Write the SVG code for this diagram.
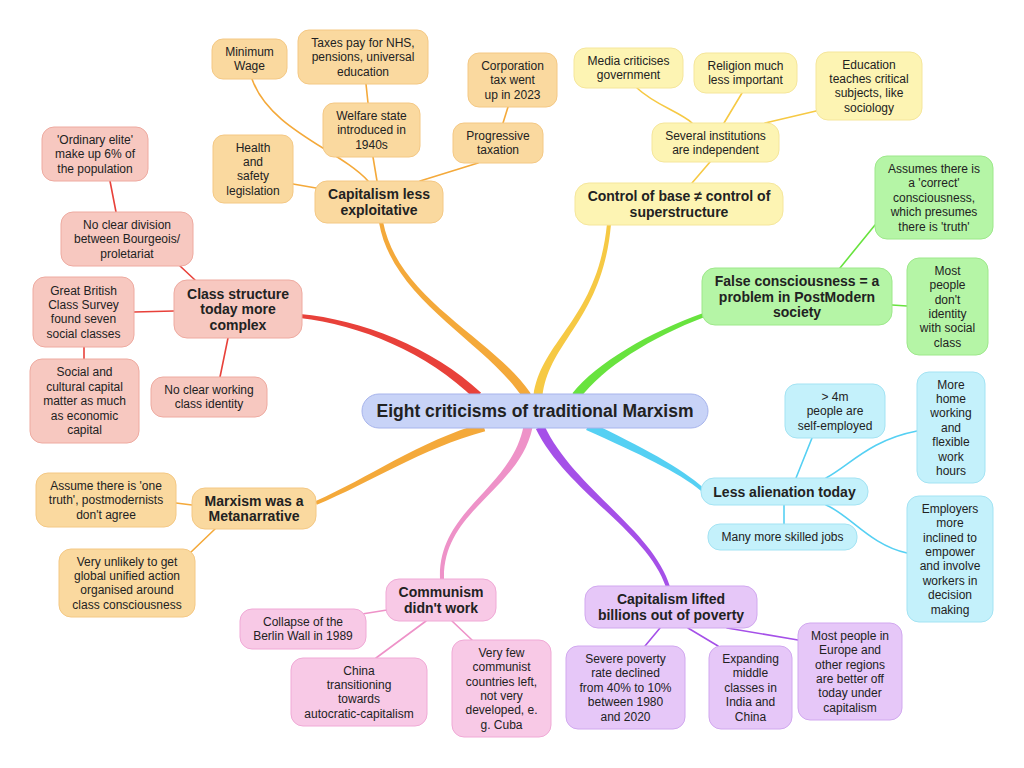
<svg xmlns="http://www.w3.org/2000/svg" width="1024" height="768" viewBox="0 0 1024 768">
<style>
text{font-family:"Liberation Sans",Arial,sans-serif;fill:#222;text-anchor:middle}
.t{font-size:12px}
.b{font-size:14px;font-weight:bold}
.c{font-size:17.5px;font-weight:bold}
rect{stroke-width:1}
.or{fill:#fad99f;stroke:#f4c884}
.ye{fill:#fdf4b3;stroke:#f5e69b}
.gr{fill:#b5f5a6;stroke:#9de88a}
.re{fill:#f7c8c0;stroke:#eeaaa0}
.cy{fill:#c4f1fb;stroke:#a3e3f3}
.pu{fill:#e6c7f8;stroke:#d1a8ef}
.pi{fill:#f8c9e6;stroke:#f0a9d6}
.ce{fill:#c8d3f7;stroke:#a7b4ec}
.l{fill:none;stroke-width:1.6;stroke-linecap:round}
.m{stroke:none}
.lo{stroke:#f4a93a}.ly{stroke:#f6c944}.lg{stroke:#68e33e}.lr{stroke:#e8413a}.lc{stroke:#55d0f3}.lp{stroke:#a550e8}.lk{stroke:#ee92c8}
.fo{fill:#f4a93a}.fy{fill:#f6c944}.fg{fill:#68e33e}.fr{fill:#e8413a}.fc{fill:#55d0f3}.fp{fill:#a550e8}.fk{fill:#ee92c8}
</style>
<rect width="1024" height="768" fill="#fff"/>
<g id="connectors">
<path class="m fr" d="M299.8,318 C359.7,324.6 427.4,352.7 474.9,399.2 L481.1,392.8 C432.6,347.3 360.3,319.4 300.2,314 Z"/>
<path class="m fo" d="M379,222.4 C392.4,300.5 486.8,342.1 523.2,398.5 L530.8,393.5 C493.2,337.9 397.6,299.5 383,221.6 Z"/>
<path class="m fy" d="M607,223.8 C597.4,319.8 541.2,339.5 533.5,395.4 L542.5,396.6 C548.8,340.5 602.6,320.2 611,224.2 Z"/>
<path class="m fg" d="M703.3,313.1 C649.1,332.6 597,362.7 572.4,393.2 L579.6,398.8 C603,367.3 650.9,337.4 704.7,316.9 Z"/>
<path class="m fc" d="M586.1,430.1 C638.4,453.5 678.3,472 701.7,491.5 L704.3,488.5 C681.7,468 641.6,446.5 589.9,421.9 Z"/>
<path class="m fp" d="M535.9,428.9 C566.6,491.6 647.5,530.8 666.1,587.6 L669.9,586.4 C652.5,529.2 573.4,488.4 544.1,425.1 Z"/>
<path class="m fk" d="M523.6,426.1 C511.3,489.2 437.4,510.1 440,579.1 L444,578.9 C442.6,509.9 518.7,490.8 532.4,427.9 Z"/>
<path class="m fo" d="M482.8,422.7 C419,441.3 369,477.6 315.2,501.2 L316.8,504.8 C371,482.4 421,448.7 485.2,431.3 Z"/>
<path class="l lo" d="M252,79 C270,130 340,150 368,181"/>
<path class="l lo" d="M366,84 L368,103"/>
<path class="l lo" d="M373,157 L377,181"/>
<path class="l lo" d="M478,163 L420,181"/>
<path class="l lo" d="M508,107 L503,123"/>
<path class="l lo" d="M293,184 L316,188"/>
<path class="l ly" d="M710,162 L692,183"/>
<path class="l ly" d="M637,88 C655,105 680,112 692,123"/>
<path class="l ly" d="M742,93 L724,123"/>
<path class="l ly" d="M816,111 L765,123"/>
<path class="l lg" d="M875,225 L840,268"/>
<path class="l lg" d="M907,306 L892,305"/>
<path class="l lr" d="M110,181 L116,212"/>
<path class="l lr" d="M180,266 L195,280"/>
<path class="l lr" d="M134,312 L174,311"/>
<path class="l lr" d="M84,347 L84,359"/>
<path class="l lr" d="M228,338 L220,377"/>
<path class="l lc" d="M812,438 L796,478"/>
<path class="l lc" d="M917,431 C870,440 850,465 826,478"/>
<path class="l lc" d="M907,553 C870,545 850,515 826,505"/>
<path class="l lc" d="M784,524 L784,505"/>
<path class="l lp" d="M660,628 L645,646"/>
<path class="l lp" d="M688,628 L718,646"/>
<path class="l lp" d="M727,628 L798,640"/>
<path class="l lk" d="M387,610 L362,614"/>
<path class="l lk" d="M426,621 L376,658"/>
<path class="l lk" d="M452,621 L472,640"/>
<path class="l lo" d="M176,503 L192,505"/>
<path class="l lo" d="M190,553 L215,529"/>
</g>
<g id="center"><rect class="ce" x="362" y="394" width="346" height="34" rx="17"/><text class="c" x="535" y="416.7">Eight criticisms of traditional Marxism</text></g>

<g id="capitalism-less"><rect class="or" x="315" y="181" width="128" height="42" rx="12"/><text class="b" x="379" y="199.25">Capitalism less<tspan x="379" dy="15.5">exploitative</tspan></text></g>
<g id="minimum-wage"><rect class="or" x="212" y="39" width="75" height="40" rx="11"/><text class="t" x="249.5" y="56">Minimum<tspan x="249.5" dy="14.4">Wage</tspan></text></g>
<g id="taxes"><rect class="or" x="298" y="30" width="130" height="54" rx="11"/><text class="t" x="363" y="46.8">Taxes pay for NHS,<tspan x="363" dy="14.4">pensions, universal</tspan><tspan x="363" dy="14.4">education</tspan></text></g>
<g id="welfare"><rect class="or" x="323" y="103" width="97" height="54" rx="11"/><text class="t" x="371.5" y="119.8">Welfare state<tspan x="371.5" dy="14.4">introduced in</tspan><tspan x="371.5" dy="14.4">1940s</tspan></text></g>
<g id="corporation"><rect class="or" x="468" y="53" width="89" height="54" rx="11"/><text class="t" x="512.5" y="69.8">Corporation<tspan x="512.5" dy="14.4">tax went</tspan><tspan x="512.5" dy="14.4">up in 2023</tspan></text></g>
<g id="progressive"><rect class="or" x="453" y="123" width="90" height="40" rx="11"/><text class="t" x="498" y="140">Progressive<tspan x="498" dy="14.4">taxation</tspan></text></g>
<g id="health"><rect class="or" x="213" y="135" width="80" height="68" rx="11"/><text class="t" x="253" y="151.6">Health<tspan x="253" dy="14.4">and</tspan><tspan x="253" dy="14.4">safety</tspan><tspan x="253" dy="14.4">legislation</tspan></text></g>

<g id="control"><rect class="ye" x="575" y="183" width="208" height="42" rx="14"/><text class="b" x="679" y="201.25">Control of base ≠ control of<tspan x="679" dy="15.5">superstructure</tspan></text></g>
<g id="several"><rect class="ye" x="652" y="123" width="127" height="39" rx="12"/><text class="t" x="715.5" y="139.5">Several institutions<tspan x="715.5" dy="14.4">are independent</tspan></text></g>
<g id="media"><rect class="ye" x="574" y="48" width="109" height="40" rx="12"/><text class="t" x="628.5" y="65">Media criticises<tspan x="628.5" dy="14.4">government</tspan></text></g>
<g id="religion"><rect class="ye" x="694" y="53" width="103" height="40" rx="12"/><text class="t" x="745.5" y="70">Religion much<tspan x="745.5" dy="14.4">less important</tspan></text></g>
<g id="education"><rect class="ye" x="816" y="52" width="106" height="68" rx="12"/><text class="t" x="869" y="68.6">Education<tspan x="869" dy="14.4">teaches critical</tspan><tspan x="869" dy="14.4">subjects, like</tspan><tspan x="869" dy="14.4">sociology</tspan></text></g>

<g id="false-consciousness"><rect class="gr" x="702" y="268" width="190" height="57" rx="13"/><text class="b" x="797" y="286">False consciousness = a<tspan x="797" dy="15.5">problem in PostModern</tspan><tspan x="797" dy="15.5">society</tspan></text></g>
<g id="assumes"><rect class="gr" x="875" y="156" width="118" height="83" rx="12"/><text class="t" x="934" y="172.9">Assumes there is<tspan x="934" dy="14.4">a 'correct'</tspan><tspan x="934" dy="14.4">consciousness,</tspan><tspan x="934" dy="14.4">which presumes</tspan><tspan x="934" dy="14.4">there is 'truth'</tspan></text></g>
<g id="most-people"><rect class="gr" x="907" y="258" width="81" height="97" rx="12"/><text class="t" x="947.5" y="274.7">Most<tspan x="947.5" dy="14.4">people</tspan><tspan x="947.5" dy="14.4">don't</tspan><tspan x="947.5" dy="14.4">identity</tspan><tspan x="947.5" dy="14.4">with social</tspan><tspan x="947.5" dy="14.4">class</tspan></text></g>

<g id="class-structure"><rect class="re" x="174" y="280" width="128" height="58" rx="13"/><text class="b" x="238" y="298.5">Class structure<tspan x="238" dy="15.5">today more</tspan><tspan x="238" dy="15.5">complex</tspan></text></g>
<g id="ordinary-elite"><rect class="re" x="42" y="127" width="106" height="54" rx="12"/><text class="t" x="95" y="143.8">'Ordinary elite'<tspan x="95" dy="14.4">make up 6% of</tspan><tspan x="95" dy="14.4">the population</tspan></text></g>
<g id="no-clear-division"><rect class="re" x="61" y="212" width="132" height="54" rx="12"/><text class="t" x="127" y="228.8">No clear division<tspan x="127" dy="14.4">between Bourgeois/</tspan><tspan x="127" dy="14.4">proletariat</tspan></text></g>
<g id="great-british"><rect class="re" x="33" y="277" width="101" height="70" rx="12"/><text class="t" x="83.5" y="294.6">Great British<tspan x="83.5" dy="14.4">Class Survey</tspan><tspan x="83.5" dy="14.4">found seven</tspan><tspan x="83.5" dy="14.4">social classes</tspan></text></g>
<g id="social-cultural"><rect class="re" x="30" y="359" width="109" height="84" rx="12"/><text class="t" x="84.5" y="376.4">Social and<tspan x="84.5" dy="14.4">cultural capital</tspan><tspan x="84.5" dy="14.4">matter as much</tspan><tspan x="84.5" dy="14.4">as economic</tspan><tspan x="84.5" dy="14.4">capital</tspan></text></g>
<g id="no-working"><rect class="re" x="151" y="377" width="116" height="40" rx="12"/><text class="t" x="209" y="394">No clear working<tspan x="209" dy="14.4">class identity</tspan></text></g>

<g id="less-alienation"><rect class="cy" x="701" y="478" width="167" height="27" rx="13"/><text class="b" x="784.5" y="496.5">Less alienation today</text></g>
<g id="self-employed"><rect class="cy" x="785" y="384" width="100" height="54" rx="12"/><text class="t" x="835" y="400.8">&gt; 4m<tspan x="835" dy="14.4">people are</tspan><tspan x="835" dy="14.4">self-employed</tspan></text></g>
<g id="home-working"><rect class="cy" x="917" y="372" width="68" height="111" rx="12"/><text class="t" x="951" y="388.5">More<tspan x="951" dy="14.4">home</tspan><tspan x="951" dy="14.4">working</tspan><tspan x="951" dy="14.4">and</tspan><tspan x="951" dy="14.4">flexible</tspan><tspan x="951" dy="14.4">work</tspan><tspan x="951" dy="14.4">hours</tspan></text></g>
<g id="employers"><rect class="cy" x="907" y="496" width="86" height="126" rx="12"/><text class="t" x="950" y="512.8">Employers<tspan x="950" dy="14.4">more</tspan><tspan x="950" dy="14.4">inclined to</tspan><tspan x="950" dy="14.4">empower</tspan><tspan x="950" dy="14.4">and involve</tspan><tspan x="950" dy="14.4">workers in</tspan><tspan x="950" dy="14.4">decision</tspan><tspan x="950" dy="14.4">making</tspan></text></g>
<g id="skilled-jobs"><rect class="cy" x="708" y="524" width="149" height="26" rx="12"/><text class="t" x="782.5" y="541.2">Many more skilled jobs</text></g>

<g id="capitalism-lifted"><rect class="pu" x="585" y="586" width="172" height="42" rx="13"/><text class="b" x="671" y="604.25">Capitalism lifted<tspan x="671" dy="15.5">billions out of poverty</tspan></text></g>
<g id="severe-poverty"><rect class="pu" x="566" y="646" width="119" height="83" rx="12"/><text class="t" x="625.5" y="662.9">Severe poverty<tspan x="625.5" dy="14.4">rate declined</tspan><tspan x="625.5" dy="14.4">from 40% to 10%</tspan><tspan x="625.5" dy="14.4">between 1980</tspan><tspan x="625.5" dy="14.4">and 2020</tspan></text></g>
<g id="expanding"><rect class="pu" x="709" y="646" width="83" height="83" rx="12"/><text class="t" x="750.5" y="662.9">Expanding<tspan x="750.5" dy="14.4">middle</tspan><tspan x="750.5" dy="14.4">classes in</tspan><tspan x="750.5" dy="14.4">India and</tspan><tspan x="750.5" dy="14.4">China</tspan></text></g>
<g id="europe"><rect class="pu" x="798" y="623" width="104" height="97" rx="12"/><text class="t" x="850" y="639.7">Most people in<tspan x="850" dy="14.4">Europe and</tspan><tspan x="850" dy="14.4">other regions</tspan><tspan x="850" dy="14.4">are better off</tspan><tspan x="850" dy="14.4">today under</tspan><tspan x="850" dy="14.4">capitalism</tspan></text></g>

<g id="communism"><rect class="pi" x="386" y="579" width="110" height="42" rx="13"/><text class="b" x="441" y="597.25">Communism<tspan x="441" dy="15.5">didn't work</tspan></text></g>
<g id="berlin-wall"><rect class="pi" x="240" y="609" width="126" height="40" rx="12"/><text class="t" x="303" y="626">Collapse of the<tspan x="303" dy="14.4">Berlin Wall in 1989</tspan></text></g>
<g id="china"><rect class="pi" x="291" y="658" width="136" height="68" rx="12"/><text class="t" x="359" y="674.6">China<tspan x="359" dy="14.4">transitioning</tspan><tspan x="359" dy="14.4">towards</tspan><tspan x="359" dy="14.4">autocratic-capitalism</tspan></text></g>
<g id="very-few"><rect class="pi" x="452" y="640" width="99" height="97" rx="12"/><text class="t" x="501.5" y="656.7">Very few<tspan x="501.5" dy="14.4">communist</tspan><tspan x="501.5" dy="14.4">countries left,</tspan><tspan x="501.5" dy="14.4">not very</tspan><tspan x="501.5" dy="14.4">developed, e.</tspan><tspan x="501.5" dy="14.4">g. Cuba</tspan></text></g>

<g id="metanarrative"><rect class="or" x="192" y="488" width="124" height="41" rx="13"/><text class="b" x="254" y="505.75">Marxism was a<tspan x="254" dy="15.5">Metanarrative</tspan></text></g>
<g id="one-truth"><rect class="or" x="36" y="473" width="140" height="54" rx="12"/><text class="t" x="106" y="489.8">Assume there is 'one<tspan x="106" dy="14.4">truth', postmodernists</tspan><tspan x="106" dy="14.4">don't agree</tspan></text></g>
<g id="unified-action"><rect class="or" x="59" y="549" width="136" height="68" rx="12"/><text class="t" x="127" y="565.6">Very unlikely to get<tspan x="127" dy="14.4">global unified action</tspan><tspan x="127" dy="14.4">organised around</tspan><tspan x="127" dy="14.4">class consciousness</tspan></text></g>
</svg>
